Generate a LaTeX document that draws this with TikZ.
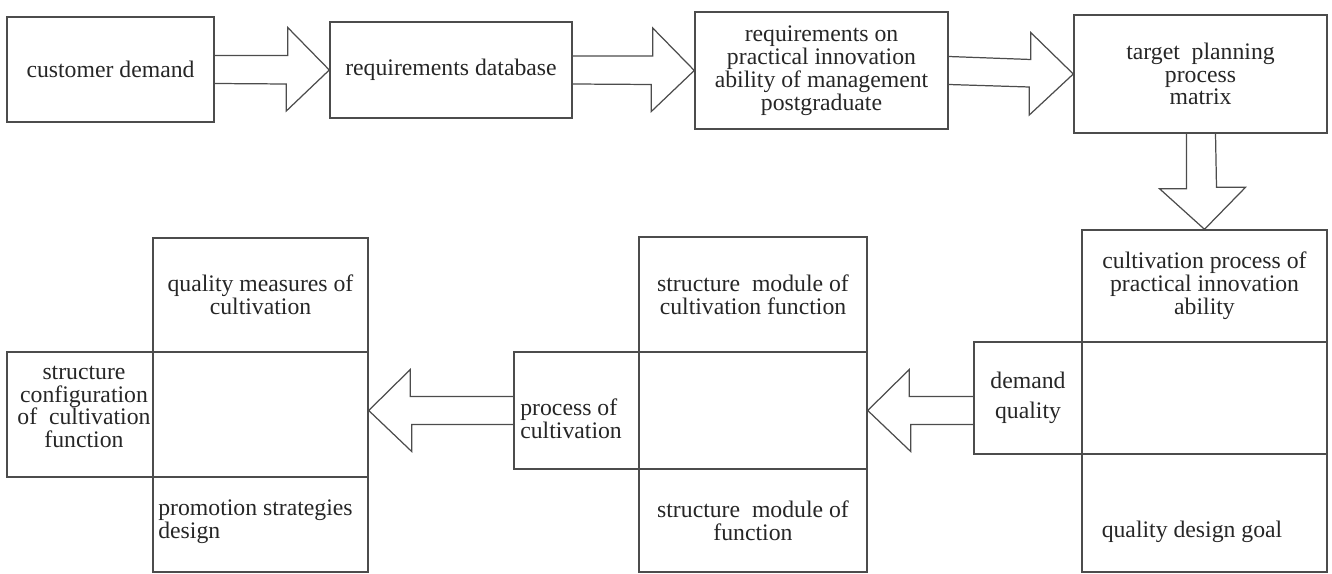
\documentclass[tikz,border=0pt]{standalone}
\usepackage{fontspec}
\setmainfont{Liberation Serif}
\usetikzlibrary{calc}

\begin{document}
\begin{tikzpicture}[x=0.02cm, y=-0.02cm,
	size/.style 2 args={minimum width=#1*0.02cm, minimum height=#2*0.02cm},
	box/.style={draw=black!70, line width=0.8pt, inner sep=0pt, align=center, text=black!85},
	txt/.style={inner sep=0pt, text=black!85},
	blockarr/.style={draw=black!70, line width=0.7pt, line join=miter},
	every node/.append style={font=\fontsize{13.5}{13}\selectfont}]
				\useasboundingbox (0,0) rectangle (1332,574);

				% Top row
				\node[box, size={207}{105}] (demand) at (110.5,69.5) {customer demand};
				\node[box, size={242}{96}] (database) at (451,70) {requirements database};
				\node[box, size={253}{117}] (require) at (821.5,70.5)
					{requirements on\\practical innovation\\ability of management\\postgraduate};
				\node[box, size={253}{118}] (matrix) at (1200.5,74)
					{target\ \ planning\\process\\matrix};

				% Right block
				\node[box, size={245}{112}] (goalA) at (1204.5,286)
					{cultivation process of\\practical innovation\\ability};
				\node[box, size={245}{112}] (goalB) at (1204.5,398) {};
				\node[box, size={245}{118}] (goalC) at (1204.5,513) {};
				\node[txt] (goaltxt) at (1192,532) {quality design goal};
				\node[box, size={108}{112}, font=\fontsize{13.5}{17}\selectfont] (dq) at (1028,398) {demand\\quality};

				% Middle block
				\node[box, size={228}{115}] (modA) at (753,294.5) {structure\ \ module of\\cultivation function};
				\node[box, size={228}{117}] (modB) at (753,410.5) {};
				\node[box, size={228}{103}] (modC) at (753,520.5)
					{structure\ \ module of\\function};
				\node[box, size={125}{117}] (proc) at (576.5,410.5) {};
				\node[txt, anchor=west, align=left] (proctxt) at (520,419) {process of\\cultivation};

				% Left block
				\node[box, size={215}{114}] (measA) at (260.5,295)
					{quality measures of\\cultivation};
				\node[box, size={215}{125}] (measB) at (260.5,414.5) {};
				\node[box, size={215}{95}] (measC) at (260.5,524.5) {};
				\node[txt, anchor=west, align=left] (meastxt) at (158,521.5)
					{promotion strategies\\design};
				\node[box, size={146}{125}] (config) at (80,414.5) {};
				\node[txt, align=center] (configtxt) at (84,407)
					{structure\\configuration\\of\ \ cultivation\\function};

				% Block arrows
				\draw[blockarr] ($(demand.east)+(0,-14)$) -- ++(73,0) -- ++(0,-28) -- (database.west)
					-- ++(-43,41) -- ++(0,-27) -- ($(demand.east)+(0,14)$);
				\draw[blockarr] ($(database.east)+(0,-14)$) -- ++(80,0) -- ++(0,-28) -- (require.west)
					-- ++(-43,41) -- ++(0,-27) -- ($(database.east)+(0,14)$);
				\draw[blockarr] ($(require.east)+(0,-14)$) -- ++(82,3) -- ++(0,-27) -- (matrix.west)
					-- ++(-44,41) -- ++(0,-28) -- ($(require.east)+(0,14)$);
				\draw[blockarr] ($(matrix.south)+(-14,0)$) -- ++(0,55) -- ++(-27,0) -- (goalA.north)
					-- ++(41,-42) -- ++(-29,0) -- ($(matrix.south)+(15,0)$);
				\draw[blockarr] ($(dq.west |- modB.east)+(0,-14)$) -- ++(-64,0) -- ++(0,-27) -- (modB.east)
					-- ++(43,41) -- ++(0,-27) -- ($(dq.west |- modB.east)+(0,14)$);
				\draw[blockarr] ($(proc.west)+(0,-14)$) -- ++(-103,0) -- ++(0,-27) -- (measB.east |- proc.west)
					-- ++(43,41) -- ++(0,-27) -- ($(proc.west)+(0,14)$);
\end{tikzpicture}
\end{document}
